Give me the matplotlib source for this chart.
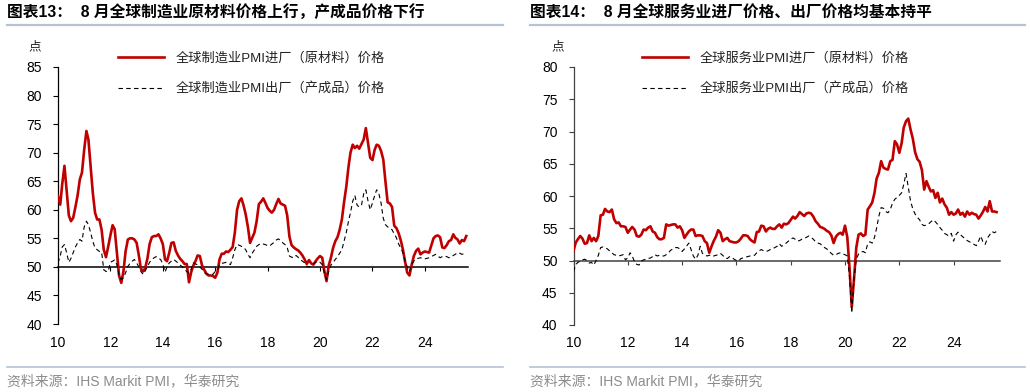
import matplotlib
matplotlib.use("Agg")
import matplotlib.pyplot as plt
import matplotlib.dates as mdates
from matplotlib.lines import Line2D
import pandas as pd

plt.rcParams['font.family'] = ['Liberation Sans', 'Noto Sans CJK SC', 'DejaVu Sans']

months = pd.date_range('2010-01-01', '2025-08-01', freq='MS')

# 全球制造业PMI进厂（原材料）价格
mfg_input = [
    62.4, 60.9, 64.5, 67.7, 63.5, 59.0, 58.0, 58.6, 60.5, 62.5, 65.3, 66.5,
    70.5, 73.8, 72.3, 67.6, 63.0, 59.5, 58.3, 58.3, 56.5, 53.0, 51.7, 53.5,
    55.5, 57.3, 56.6, 52.5, 48.5, 47.2, 49.2, 52.8, 54.8, 55.0, 55.0, 54.8,
    54.2, 52.0, 49.7, 49.2, 49.8, 51.5, 54.0, 55.2, 55.4, 55.4, 55.7, 55.0,
    54.0, 51.3, 51.0, 52.5, 54.2, 54.3, 52.8, 52.0, 51.4, 51.0, 50.5, 50.5,
    47.3, 49.1, 50.2, 51.0, 52.0, 51.9, 50.3, 49.5, 48.8, 48.5, 48.5, 48.4,
    48.1, 49.0, 51.3, 52.3, 52.3, 52.7, 52.6, 53.0, 53.5, 56.0, 60.0, 61.5,
    62.0, 60.7, 59.2, 57.0, 54.2, 55.1, 56.0, 58.0, 61.0, 61.4, 62.0, 61.2,
    60.3, 59.8, 59.5, 60.0, 61.0, 61.9, 61.1, 60.9, 60.7, 59.0, 55.3, 53.8,
    53.4, 53.1, 52.9, 52.5, 52.0, 51.3, 50.5, 51.2, 50.6, 50.4, 51.0, 51.5,
    51.9, 51.6, 49.3, 47.5, 50.2, 51.6, 53.3, 54.5, 55.2, 56.5, 58.3, 61.3,
    64.0, 67.5, 70.0, 71.4, 70.8, 71.2, 70.7, 71.5, 72.3, 74.3, 71.7, 69.1,
    68.7, 70.5, 71.4, 71.2, 70.3, 68.8, 65.0, 61.3, 61.1, 60.5, 57.2, 56.8,
    55.9, 54.6, 53.1, 50.9, 49.0, 48.5, 50.3, 51.9, 52.8, 53.2, 52.2, 52.5,
    52.7, 52.6, 52.5, 53.8, 55.0, 55.4, 55.5, 55.2, 53.4, 53.3, 53.8, 54.5,
    54.7, 55.7, 55.1, 54.8, 54.1, 54.7, 54.5, 55.4,
]

# 全球制造业PMI出厂（产成品）价格
mfg_output = [
    50.7, 51.9, 53.5, 53.9, 52.5, 50.8, 51.5, 52.5, 53.5, 54.2, 54.8, 54.5,
    57.0, 58.0, 57.4, 56.0, 54.5, 53.3, 53.0, 52.7, 52.6, 49.5, 49.2, 49.2,
    50.8, 51.0, 51.2, 50.4, 48.5, 47.8, 48.1, 49.0, 50.1, 50.6, 51.0, 51.3,
    50.7, 50.0, 49.2, 48.7, 49.3, 50.1, 50.8, 51.3, 51.6, 51.8, 51.5, 51.3,
    50.5, 49.1, 50.0, 50.7, 51.0, 51.3, 51.0, 50.7, 50.3, 50.0, 49.5, 49.2,
    48.9, 49.6, 50.7, 50.5, 50.4, 50.0, 49.6, 49.0, 48.8, 48.7, 48.7, 48.7,
    49.2, 49.5, 50.3, 50.6, 50.7, 50.8, 50.6, 50.4, 51.6, 53.0, 53.9, 53.8,
    53.6, 53.4, 53.0, 52.2, 51.6, 52.4, 53.0, 53.6, 53.9, 54.1, 54.0, 53.9,
    53.7, 53.7, 54.0, 54.3, 54.7, 54.9, 54.6, 54.2, 53.9, 53.4, 51.9, 51.7,
    51.6, 52.0, 51.7, 51.3, 51.0, 50.7, 50.1, 50.0, 50.2, 50.5, 50.8, 51.0,
    50.8, 50.4, 49.0, 47.8, 49.2, 50.3, 50.8, 51.3, 51.8, 52.4, 53.0, 54.5,
    56.0, 58.0, 59.5, 61.5, 62.5, 60.8, 60.5, 60.8, 62.8, 63.5, 61.5, 60.0,
    61.2, 62.5, 63.5, 62.8, 61.2, 58.5, 57.4, 57.0, 56.8, 56.5, 55.8, 55.1,
    54.0, 53.3, 52.5, 51.0, 50.0, 49.2, 50.4, 51.0, 51.4, 51.5, 51.6, 51.5,
    51.4, 51.5, 51.6, 51.8, 52.0, 52.2, 51.9, 51.6, 51.8, 51.9, 51.8, 51.6,
    51.7, 52.0, 52.2, 52.5, 52.4, 52.2, 52.3, 52.2,
]

# 全球服务业PMI进厂（原材料）价格
svc_input = [
    51.5, 52.8, 53.3, 53.8, 53.4, 52.6, 52.7, 53.9, 53.0, 53.5, 53.0, 53.8,
    57.0, 57.1, 58.0, 57.6, 57.5, 57.9, 56.4, 55.8, 55.9, 55.3, 55.3, 55.2,
    54.3, 54.8, 55.2, 54.8, 53.8, 53.7, 54.0, 54.8, 54.7, 55.1, 55.3, 54.5,
    54.3, 53.6, 53.3, 53.3, 53.5, 55.6, 55.4, 55.5, 55.6, 55.6, 55.1, 55.3,
    54.7, 53.5, 54.0, 54.5, 54.8, 54.8, 53.8, 53.9, 53.9, 53.8, 53.0, 52.7,
    51.2, 52.2, 53.0, 53.7, 54.7, 54.3, 53.0, 53.3, 53.5, 53.0, 52.9, 52.8,
    52.8, 53.0, 53.4, 53.9, 53.9, 53.8, 53.3, 53.0, 52.8, 54.4, 54.5, 55.4,
    55.3, 54.5, 54.9, 55.1, 54.9, 54.9, 55.3, 55.6, 55.1, 55.7, 55.6, 55.8,
    56.3, 56.8, 56.5, 56.9, 57.5, 57.2, 56.9, 57.3, 57.4, 57.3, 56.8, 56.1,
    55.7, 55.2, 55.1, 54.9, 54.6, 54.4, 53.9, 52.7, 53.7, 54.1, 54.3, 54.0,
    55.4, 53.6, 49.0, 42.8, 47.1, 52.0, 54.0, 54.2, 53.8, 54.0, 57.9, 58.4,
    59.0, 60.5, 62.7, 63.6, 65.4, 64.4, 64.2, 64.1, 65.4, 65.6, 68.5, 68.0,
    66.7, 68.2, 70.6, 71.6, 72.0, 70.3, 68.9, 66.8, 65.7, 65.3, 64.0, 61.0,
    62.3, 61.4, 60.7, 60.9, 59.7, 60.5, 59.0, 59.6, 58.7, 58.2, 57.1, 57.5,
    57.1, 57.3, 57.9, 57.1, 57.4, 56.8, 57.6, 57.1, 57.4, 57.2, 57.1, 56.5,
    57.0, 57.6, 58.3, 57.6, 59.2, 57.6, 57.6, 57.5,
]

# 全球服务业PMI出厂（产成品）价格
svc_output = [
    48.3, 49.4, 49.7, 49.9, 50.1, 50.2, 50.0, 49.6, 49.7, 49.3, 50.0, 50.8,
    52.0, 52.1, 52.0, 51.8, 51.5, 51.2, 50.9, 50.8, 50.7, 50.8, 50.9, 50.1,
    50.4, 51.2, 50.7, 49.8, 49.4, 49.3, 49.9, 50.1, 50.2, 50.3, 50.4, 50.6,
    50.9, 50.7, 50.8, 50.7, 50.7, 50.9, 51.2, 51.6, 51.8, 52.0, 52.0, 51.8,
    51.4, 51.8, 52.2, 52.7, 51.7, 50.7, 50.2, 50.8, 52.2, 51.1, 50.9, 50.7,
    50.8, 50.9, 50.7, 50.8, 50.9, 51.1, 50.8, 50.4, 50.3, 50.6, 50.5, 50.2,
    50.0, 49.9, 50.3, 50.4, 50.5, 50.6, 50.7, 50.8, 50.8, 51.2, 51.5, 51.7,
    51.5, 51.4, 51.5, 51.7, 51.8, 52.0, 52.2, 52.6, 52.2, 52.4, 52.7, 53.0,
    53.3, 53.5, 53.3, 53.0, 53.1, 53.3, 53.4, 53.6, 53.8, 53.6, 53.3, 52.9,
    52.7, 52.6, 52.3, 52.0, 51.8, 51.4, 51.1, 50.8, 50.9, 51.1, 51.2, 51.0,
    50.9, 50.7, 47.6, 41.9, 47.2, 50.2, 51.0, 51.3, 51.4, 51.2, 52.6, 52.9,
    52.7, 53.6, 55.0, 56.9, 58.2, 58.1, 57.6, 57.4, 57.9, 58.9, 59.5, 59.8,
    60.1, 60.5, 61.8, 63.5, 61.4, 59.2, 58.0, 57.2, 56.7, 56.3, 55.6, 55.4,
    55.5, 55.7, 56.0, 56.3, 56.0, 55.6, 55.1, 54.7, 54.2, 54.0, 53.8, 54.2,
    53.0, 54.0, 54.4, 54.0, 53.7, 53.4, 53.1, 52.9, 52.7, 52.5, 52.3, 53.0,
    53.8, 52.8, 52.5, 53.5, 54.0, 54.5, 54.3, 54.5,
]

titles = ['图表13：  8 月全球制造业原材料价格上行，产成品价格下行',
          '图表14：  8 月全球服务业进厂价格、出厂价格均基本持平']
labels_left = ['全球制造业PMI进厂（原材料）价格', '全球制造业PMI出厂（产成品）价格']
labels_right = ['全球服务业PMI进厂（原材料）价格', '全球服务业PMI出厂（产成品）价格']
source = '资料来源：IHS Markit PMI，华泰研究'

RED = '#c00000'
W, H = 1030, 392

fig = plt.figure(figsize=(W / 100, H / 100), dpi=100)


def px(x0, x1, y0, y1):
    # pixel box -> figure fraction rect
    return [x0 / W, 1 - y1 / H, (x1 - x0) / W, (y1 - y0) / H]


panels = [
    dict(rect=px(58, 468, 67, 324), ylim=(40, 85), data=(mfg_input, mfg_output),
         labels=labels_left, xend='2025-08-25', pad=47, axcol='black',
         title=titles[0], tx=7, lx1=503, legx=118),
    dict(rect=px(573.5, 1000, 67, 325), ylim=(40, 80), data=(svc_input, svc_output),
         labels=labels_right, xend='2025-09-16', pad=51.5, axcol='#404040',
         title=titles[1], tx=530, lx1=1025, legx=642),
]

for p in panels:
    ax = fig.add_axes(p['rect'])
    inp, outp = p['data']
    ax.plot(months, inp, color=RED, lw=1.9, zorder=3, label=p['labels'][0])
    ax.plot(months, outp, color='black', lw=0.8, ls=(0, (4, 3)), zorder=3,
            label=p['labels'][1])
    ax.set_ylim(*p['ylim'])
    ax.set_yticks(range(p['ylim'][0], p['ylim'][1] + 1, 5))
    ax.set_xlim(pd.Timestamp('2010-01-01'), pd.Timestamp(p['xend']))
    ax.xaxis.set_major_locator(mdates.YearLocator(2))
    ax.xaxis.set_major_formatter(mdates.DateFormatter('%y'))
    for s in ['top', 'right']:
        ax.spines[s].set_visible(False)
    ax.spines['bottom'].set_position(('data', 50))
    ax.spines['bottom'].set_color(p['axcol'])
    ax.spines['bottom'].set_linewidth(1.1)
    ax.spines['left'].set_color(p['axcol'])
    ax.spines['left'].set_linewidth(0.9)
    ax.tick_params(axis='y', length=3.5, width=0.8, color=p['axcol'], pad=8,
                   labelsize=10)
    ax.tick_params(axis='x', length=3, width=0.8, color=p['axcol'], pad=p['pad'],
                   labelsize=10)
    ax.patch.set_alpha(0)

    leg = ax.legend(loc='upper left', bbox_to_anchor=(p['legx'] / W, 1 - 52 / H),
                    bbox_transform=fig.transFigure,
                    frameon=False, fontsize=9.5, handlelength=3.5,
                    handletextpad=0.9, labelspacing=1.35, borderpad=0,
                    borderaxespad=0)
    for t in leg.get_texts():
        t.set_color('#222222')

    fig.text(p['tx'] / W, 1 - 13 / H, p['title'], fontsize=11.3, fontweight='bold',
             va='center', ha='left')
    fig.add_artist(Line2D([p['tx'] / W, p['lx1'] / W], [1 - 25 / H] * 2,
                          color='#b6c3d6', lw=1.6))
    fig.add_artist(Line2D([p['tx'] / W, p['lx1'] / W], [1 - 367 / H] * 2,
                          color='#b6c3d6', lw=1.2))
    fig.text(p['tx'] / W, 1 - 381 / H, source, fontsize=10, color='#8c8c8c',
             va='center', ha='left')
    fig.text((p['tx'] + 21) / W, 1 - 47 / H, '点', fontsize=9, va='center',
             ha='left', color='#222222')

fig.savefig('out.png', dpi=100)
